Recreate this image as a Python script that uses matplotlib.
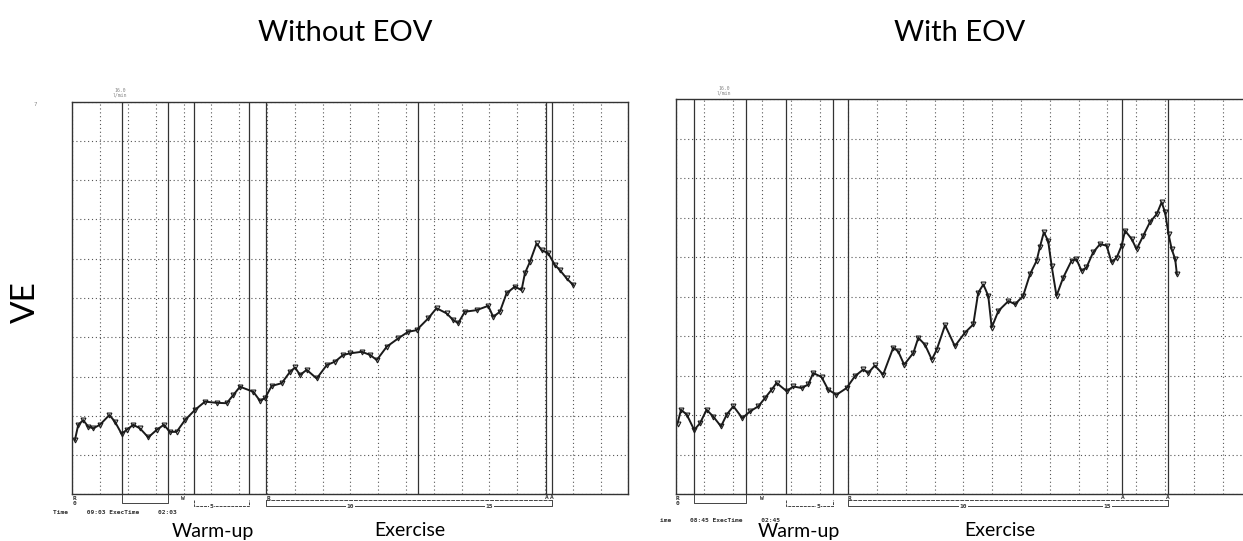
import numpy as np
import matplotlib.pyplot as plt

W, H = 1243, 541

# VE traces (x = minutes, y = grid units)
t_without = [0.09, 0.21, 0.39, 0.57, 0.75, 0.99, 1.33, 1.53, 1.77, 1.95, 2.19, 2.43, 2.73,
             3.03, 3.29, 3.51, 3.75, 4.05, 4.41, 4.77, 5.19, 5.55, 5.79, 6.03, 6.51, 6.75,
             6.93, 7.17, 7.53, 7.83, 8.01, 8.19, 8.43, 8.79, 9.15, 9.45, 9.74, 9.99, 10.41,
             10.71, 10.95, 11.31, 11.72, 12.08, 12.38, 12.8, 13.1, 13.46, 13.7, 13.88, 14.12,
             14.54, 14.96, 15.14, 15.38, 15.62, 15.92, 16.16, 16.28, 16.46, 16.7, 16.88,
             17.12, 17.36, 17.54, 17.78, 18.02]
ve_without = [1.38, 1.77, 1.89, 1.72, 1.68, 1.77, 2.02, 1.85, 1.54, 1.64, 1.77, 1.68, 1.45,
              1.64, 1.77, 1.59, 1.59, 1.89, 2.15, 2.36, 2.33, 2.32, 2.53, 2.74, 2.61, 2.38,
              2.45, 2.76, 2.83, 3.12, 3.23, 3.04, 3.17, 2.95, 3.29, 3.38, 3.55, 3.59, 3.63,
              3.55, 3.42, 3.76, 3.97, 4.14, 4.18, 4.48, 4.74, 4.61, 4.44, 4.36, 4.65,
              4.69, 4.8, 4.52, 4.65, 5.12, 5.29, 5.2, 5.63, 5.92, 6.39, 6.22,
              6.14, 5.84, 5.71, 5.5, 5.33]

t_with = [0.07, 0.19, 0.39, 0.65, 0.85, 1.08, 1.31, 1.58, 1.78, 2.01, 2.32, 2.59, 2.88, 3.11,
          3.34, 3.51, 3.86, 4.09, 4.38, 4.61, 4.78, 5.07, 5.3, 5.59, 5.94, 6.23, 6.52, 6.69,
          6.92, 7.21, 7.56, 7.73, 7.94, 8.26, 8.43, 8.66, 8.9, 9.07, 9.36, 9.7, 10.05,
          10.34, 10.51, 10.69, 10.86, 10.98, 11.21, 11.56, 11.79, 12.07, 12.31, 12.54, 12.65,
          12.79, 12.94, 13.06, 13.23, 13.46, 13.75, 13.92, 14.1, 14.27, 14.5, 14.74, 14.97,
          15.14, 15.32, 15.49, 15.61, 15.84, 16.01, 16.24, 16.47, 16.71, 16.88, 17.0, 17.12,
          17.23, 17.35, 17.41]
ve_with = [1.79, 2.14, 2.02, 1.63, 1.8, 2.14, 1.97, 1.72, 2.02, 2.23, 1.93, 2.1, 2.23, 2.44,
           2.65, 2.82, 2.61, 2.73, 2.69, 2.78, 3.07, 2.97, 2.65, 2.52, 2.69, 2.99, 3.16, 3.07,
           3.26, 3.03, 3.71, 3.62, 3.28, 3.58, 3.96, 3.79, 3.41, 3.66, 4.28, 3.75, 4.09,
           4.3, 5.1, 5.31, 5.02, 4.22, 4.64, 4.89, 4.81, 5.02, 5.57, 5.91, 6.25,
           6.63, 6.41, 5.78, 5.02, 5.48, 5.91, 5.95, 5.65, 5.74, 6.12, 6.33, 6.29,
           5.87, 5.99, 6.29, 6.67, 6.46, 6.2, 6.54, 6.88, 7.09, 7.39, 7.13, 6.58,
           6.2, 5.95, 5.57]

# solid event lines on each printout
ev_without = [1.78, 3.43, 4.39, 6.34, 6.97, 12.42, 17.05, 17.25]
ev_with = [0.65, 2.45, 3.84, 5.48, 5.98, 15.52, 17.09]

titles = ['Without EOV', 'With EOV']
time_labels = ['Time     09:03 ExecTime     02:03', 'ime     08:45 ExecTime     02:45']

fig = plt.figure(figsize=(W / 100, H / 100), dpi=100)
fig.patch.set_facecolor('white')

mono = dict(family='DejaVu Sans Mono', fontsize=4.5, fontweight='bold', color='#333')


def panel(rect, t, ve, ev, w_at, five_at, a_marks):
    ax = fig.add_axes(rect)
    ax.set_xlim(0, 20)
    ax.set_ylim(0, 10)
    ax.set_xticks(range(0, 21))
    ax.set_yticks(range(0, 11))
    ax.grid(True, ls=(0, (1, 2.5)), color='#555', lw=0.8)
    ax.tick_params(length=0, labelbottom=False, labelleft=False)
    for s in ax.spines.values():
        s.set_color('#333')
        s.set_linewidth(1.0)
    for x in ev:
        ax.axvline(x, color='#333', lw=0.9)
    ax.plot(t, ve, color='#1a1a1a', lw=1.4, marker='v', ms=3.5, mfc='none',
            mec='#1a1a1a', mew=0.8)

    # printout annotation strip under the axis
    axh = rect[3] * H
    tr = ax.get_xaxis_transform()

    def yy(d):
        return -d / axh

    kw = dict(transform=tr, clip_on=False, color='#444', lw=0.7)
    ax.text(0, yy(2), 'R\n0', transform=tr, ha='left', va='top', linespacing=0.9, **mono)
    ax.plot([ev[0], ev[0], ev[1], ev[1]], [0, yy(9), yy(9), 0], **kw)
    ax.text(w_at, yy(2), 'W', transform=tr, ha='center', va='top', **mono)
    ax.plot([ev[2], ev[2], ev[3], ev[3]], [yy(6), yy(12), yy(12), yy(6)], ls=(0, (3, 1)), **kw)
    ax.text(five_at, yy(12), '5', transform=tr, ha='center', va='center',
            bbox=dict(fc='white', ec='none', pad=0.3), **mono)
    ax.text(ev[4], yy(2), 'R', transform=tr, ha='left', va='top', **mono)
    ax.plot([ev[4], ev[-1]], [yy(6), yy(6)], ls=(0, (4, 1)), **kw)
    ax.plot([ev[4], ev[4], ev[-1], ev[-1]], [yy(6), yy(12), yy(12), yy(6)], **kw)
    for n in (10, 15):
        ax.text(n, yy(12), str(n), transform=tr, ha='center', va='center',
                bbox=dict(fc='white', ec='none', pad=0.3), **mono)
    for x in a_marks:
        ax.text(x, yy(1), 'A', transform=tr, ha='center', va='top', **mono)
    return ax


ax1 = panel([72.4 / W, 1 - 494.3 / H, 555.9 / W, 392.6 / H],
            t_without, ve_without, ev_without, 3.99, 5.0, [17.05, 17.25])
ax2 = panel([675.5 / W, 1 - 494.4 / H, 576 / W, 395.4 / H],
            t_with, ve_with, ev_with, 3.0, 4.97, [15.52, 17.09])

# small printer text
fig.text(53 / W, 1 - 513 / H, time_labels[0], ha='left', va='center', **mono)
fig.text(660 / W, 1 - 521 / H, time_labels[1], ha='left', va='center', **mono)
fig.text(120 / W, 1 - 93 / H, '16.0\nl/min', ha='center', va='center', linespacing=0.9,
         family='DejaVu Sans Mono', fontsize=3.5, color='#888')
fig.text(724 / W, 1 - 91 / H, '16.0\nl/min', ha='center', va='center', linespacing=0.9,
         family='DejaVu Sans Mono', fontsize=3.5, color='#888')
fig.text(35 / W, 1 - 104 / H, '7', ha='center', va='center', fontsize=4, color='#888')

# slide labels
big = dict(family='Lato', color='black')
fig.text(345 / W, 1 - 33 / H, titles[0], ha='center', va='center', fontsize=21, **big)
fig.text(960 / W, 1 - 33 / H, titles[1], ha='center', va='center', fontsize=21, **big)
fig.text(26 / W, 1 - 302 / H, 'VE', ha='center', va='center', rotation=90, fontsize=24, **big)
fig.text(213 / W, 1 - 531 / H, 'Warm-up', ha='center', va='center', fontsize=14, **big)
fig.text(410 / W, 1 - 531 / H, 'Exercise', ha='center', va='center', fontsize=14, **big)
fig.text(799 / W, 1 - 531 / H, 'Warm-up', ha='center', va='center', fontsize=14, **big)
fig.text(1000 / W, 1 - 531 / H, 'Exercise', ha='center', va='center', fontsize=14, **big)

fig.savefig('out.png', dpi=100)
